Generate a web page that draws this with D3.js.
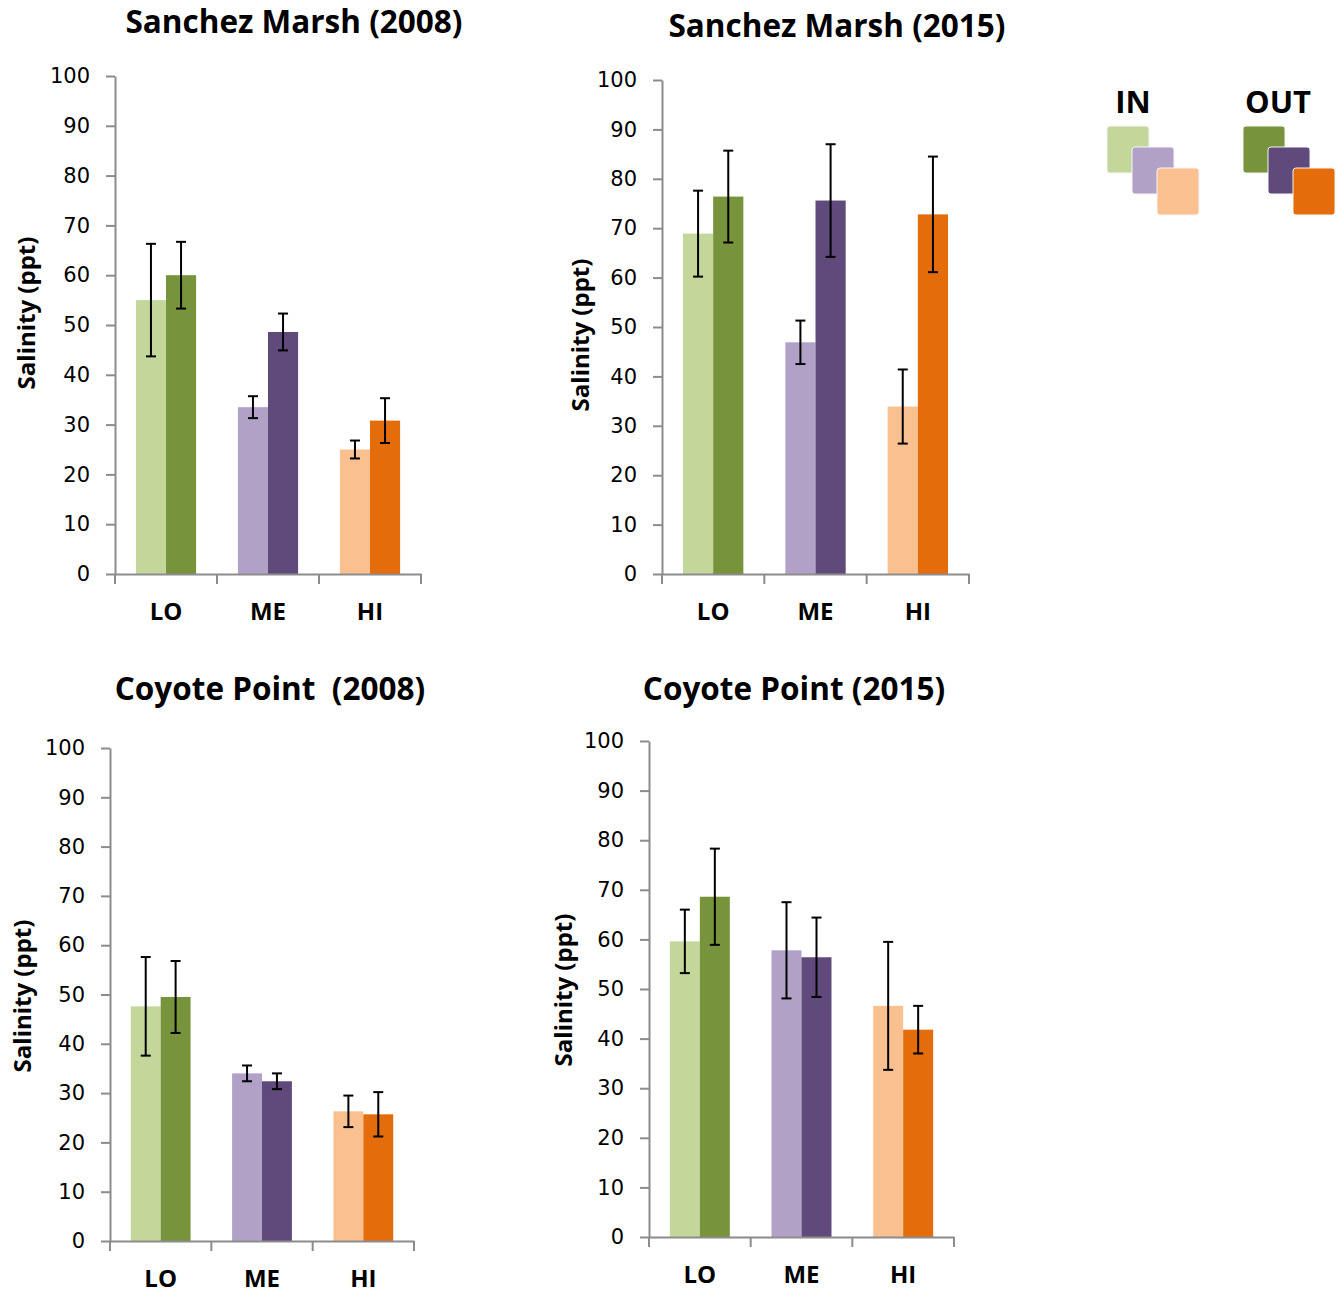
<!DOCTYPE html>
<html>
<head>
<meta charset="utf-8">
<script src="https://cdn.jsdelivr.net/npm/d3@7"></script>
<style>
  body { margin: 0; background: #fff; }
</style>
</head>
<body>
<div id="chart"></div>
<script>
// salinity by marsh zone, inside vs outside, two sites and two years
const zones = ["LO", "ME", "HI"];
const groups = ["IN", "OUT"];
const yTicks = [0, 10, 20, 30, 40, 50, 60, 70, 80, 90, 100];

const sanchez2008In = [55.0, 33.5, 25.0];
const sanchez2008InErr = [11.3, 2.2, 1.8];
const sanchez2008Out = [60.0, 48.6, 30.8];
const sanchez2008OutErr = [6.7, 3.7, 4.5];

const sanchez2015In = [68.9, 46.9, 33.9];
const sanchez2015InErr = [8.7, 4.4, 7.5];
const sanchez2015Out = [76.4, 75.6, 72.8];
const sanchez2015OutErr = [9.3, 11.4, 11.7];

const coyote2008In = [47.6, 34.0, 26.3];
const coyote2008InErr = [10.0, 1.6, 3.2];
const coyote2008Out = [49.5, 32.4, 25.7];
const coyote2008OutErr = [7.3, 1.6, 4.5];

const coyote2015In = [59.6, 57.8, 46.6];
const coyote2015InErr = [6.4, 9.7, 12.9];
const coyote2015Out = [68.6, 56.4, 41.8];
const coyote2015OutErr = [9.7, 8.0, 4.8];

const inColors = ["#c4d79b", "#b2a1c7", "#fac090"];
const outColors = ["#77933c", "#604a7b", "#e46c0a"];

const width = 1344;
const height = 1298;
const axisColor = "#8c8c8c";
const boldFont = "'Open Sans', sans-serif";
const tickFont = "'DejaVu Sans', sans-serif";

// layout of each small chart (pixels)
const panels = [
  { title: "Sanchez Marsh (2008)", x: 115, top: 76, bottom: 574, w: 306,
    tx: 294, ty: 33, lx: 25, ly: 313,
    vin: sanchez2008In, ein: sanchez2008InErr, vout: sanchez2008Out, eout: sanchez2008OutErr },
  { title: "Sanchez Marsh (2015)", x: 662, top: 80, bottom: 574, w: 307,
    tx: 837, ty: 37, lx: 579, ly: 335,
    vin: sanchez2015In, ein: sanchez2015InErr, vout: sanchez2015Out, eout: sanchez2015OutErr },
  { title: "Coyote Point\u00a0 (2008)", x: 110, top: 748, bottom: 1241, w: 304,
    tx: 270, ty: 700, lx: 21, ly: 996,
    vin: coyote2008In, ein: coyote2008InErr, vout: coyote2008Out, eout: coyote2008OutErr },
  { title: "Coyote Point (2015)", x: 649, top: 741, bottom: 1237, w: 305,
    tx: 794, ty: 700, lx: 562, ly: 990,
    vin: coyote2015In, ein: coyote2015InErr, vout: coyote2015Out, eout: coyote2015OutErr }
];

const svg = d3.select("#chart")
  .append("svg")
  .attr("width", width)
  .attr("height", height)
  .attr("viewBox", `0 0 ${width} ${height}`);

function drawPanel(p) {
  const h = p.bottom - p.top;
  const g = svg.append("g").attr("transform", `translate(${p.x},${p.top})`);

  const y = d3.scaleLinear().domain([0, 100]).range([h, 0]);
  const x = d3.scaleBand().domain(zones).range([0, p.w])
    .paddingInner(0.41).paddingOuter(0.205);
  const xs = d3.scaleBand().domain(groups).range([0, x.bandwidth()]);

  // bars: one row per zone and group
  const rows = zones.flatMap((z, i) => [
    { zone: z, group: "IN", v: p.vin[i], e: p.ein[i], color: inColors[i] },
    { zone: z, group: "OUT", v: p.vout[i], e: p.eout[i], color: outColors[i] }
  ]);

  g.selectAll("rect.bar")
    .data(rows)
    .join("rect")
    .attr("class", "bar")
    .attr("x", d => x(d.zone) + xs(d.group))
    .attr("y", d => y(d.v))
    .attr("width", xs.bandwidth())
    .attr("height", d => h - y(d.v))
    .attr("fill", d => d.color);

  // error bars
  const cx = d => x(d.zone) + xs(d.group) + xs.bandwidth() / 2;
  const capHalf = 5;
  const err = g.selectAll("g.err").data(rows).join("g").attr("class", "err")
    .attr("stroke", "#000").attr("stroke-width", 2);
  err.append("line")
    .attr("x1", cx).attr("x2", cx)
    .attr("y1", d => y(d.v + d.e)).attr("y2", d => y(d.v - d.e));
  err.append("line")
    .attr("x1", d => cx(d) - capHalf).attr("x2", d => cx(d) + capHalf)
    .attr("y1", d => y(d.v + d.e)).attr("y2", d => y(d.v + d.e));
  err.append("line")
    .attr("x1", d => cx(d) - capHalf).attr("x2", d => cx(d) + capHalf)
    .attr("y1", d => y(d.v - d.e)).attr("y2", d => y(d.v - d.e));

  // y axis
  const ya = g.append("g")
    .call(d3.axisLeft(y).tickValues(yTicks).tickSize(9).tickSizeOuter(0).tickPadding(16));
  ya.selectAll("path, line").attr("stroke", axisColor).attr("stroke-width", 2);
  ya.selectAll("text")
    .attr("font-family", tickFont)
    .attr("font-size", 21)
    .attr("fill", "#000");

  // x axis: labels centred, ticks on category boundaries
  const xa = g.append("g")
    .attr("transform", `translate(0,${h})`)
    .call(d3.axisBottom(x).tickSize(0).tickSizeOuter(0).tickPadding(29));
  xa.select("path").attr("stroke", axisColor).attr("stroke-width", 2);
  xa.selectAll("text")
    .attr("font-family", boldFont)
    .attr("font-weight", 700)
    .attr("font-size", 24)
    .attr("fill", "#000");

  g.selectAll("line.xtick")
    .data(d3.range(zones.length + 1))
    .join("line")
    .attr("class", "xtick")
    .attr("x1", i => i * x.step()).attr("x2", i => i * x.step())
    .attr("y1", h).attr("y2", h + 10)
    .attr("stroke", axisColor)
    .attr("stroke-width", 2);

  // title
  svg.append("text")
    .attr("x", p.tx)
    .attr("y", p.ty)
    .attr("text-anchor", "middle")
    .attr("font-family", boldFont)
    .attr("font-weight", 700)
    .attr("font-size", 31.5)
    .attr("fill", "#000")
    .text(p.title);

  // y axis title
  svg.append("text")
    .attr("transform", `translate(${p.lx},${p.ly}) rotate(-90)`)
    .attr("text-anchor", "middle")
    .attr("dominant-baseline", "central")
    .attr("font-family", boldFont)
    .attr("font-weight", 700)
    .attr("font-size", 24)
    .attr("fill", "#000")
    .text("Salinity (ppt)");
}

panels.forEach(drawPanel);

// legend: IN / OUT, three overlapping swatches each
const legendX = { IN: 1107, OUT: 1243 };
const legendColors = { IN: inColors, OUT: outColors };
const swW = 42, swH = 47, swDx = 25, swDy = 21;

groups.forEach(gr => {
  const lg = svg.append("g").attr("transform", `translate(${legendX[gr]},126)`);
  lg.selectAll("rect")
    .data(legendColors[gr])
    .join("rect")
    .attr("x", (d, i) => i * swDx)
    .attr("y", (d, i) => i * swDy)
    .attr("width", swW)
    .attr("height", swH)
    .attr("rx", 3)
    .attr("fill", d => d)
    .attr("stroke", "#f4f4f4")
    .attr("stroke-width", 1);
  lg.append("text")
    .attr("x", gr === "IN" ? 26 : 35)
    .attr("y", -13)
    .attr("text-anchor", "middle")
    .attr("font-family", boldFont)
    .attr("font-weight", 700)
    .attr("font-size", 31)
    .attr("fill", "#000")
    .text(gr);
});
</script>
</body>
</html>
